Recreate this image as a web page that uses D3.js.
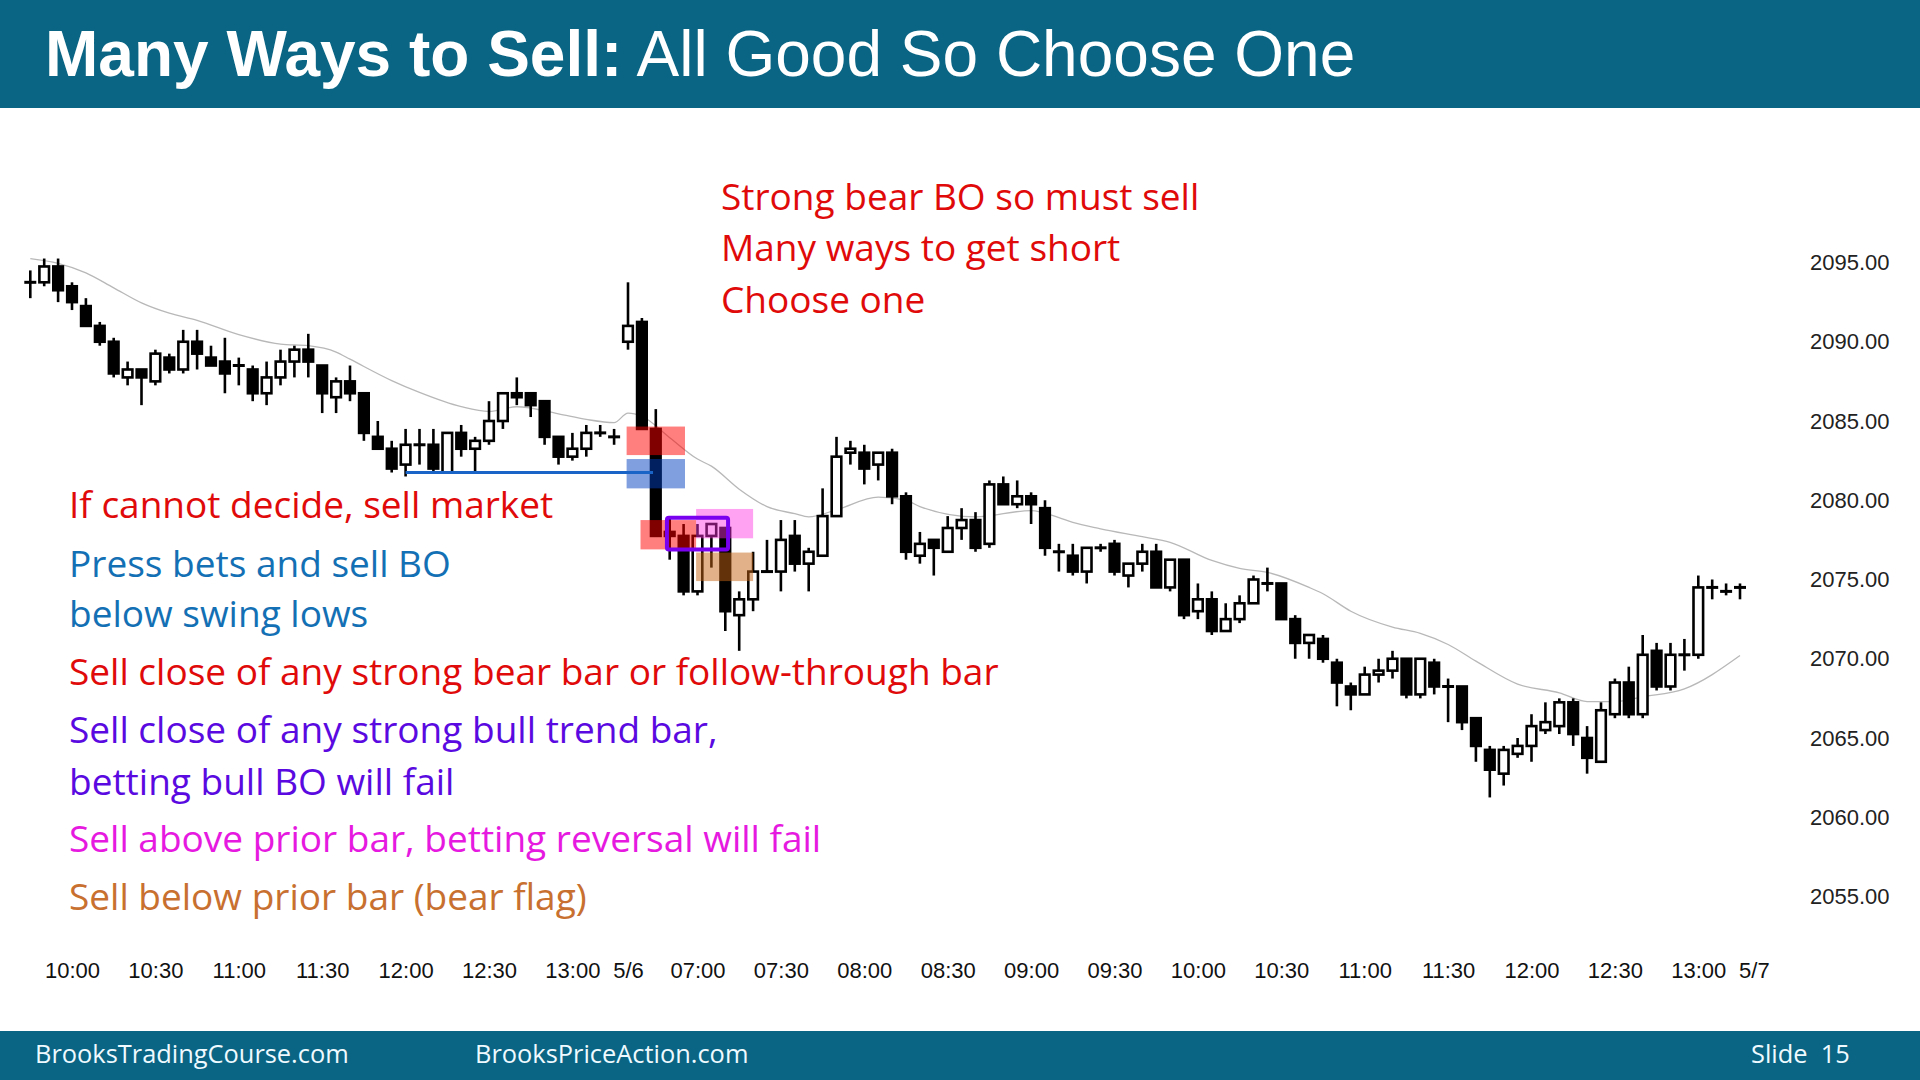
<!DOCTYPE html>
<head>
  <meta charset="utf-8">
  <script src="https://d3js.org/d3.v7.min.js"></script>
  <style>
    body { margin:0; background:#fff; }
  </style>
</head>
<body>
<script>
// ---- data (5 min bars, day 1 = 5/5 09:45-13:15, day 2 = 5/6 06:35-13:15) ----
var openVals = [
  2093.75, 2093.75, 2094.75, 2093.5, 2092.25, 2091, 2090, 2087.75, 2088.25, 2087.5,
  2089, 2088.25, 2090, 2089, 2088.75, 2088.5, 2088.25, 2086.75, 2087.75, 2088.75,
  2089.5, 2088.5, 2086.5, 2087.5, 2086.75, 2084, 2083.25, 2082.25, 2083.5, 2083.5,
  2081.75, 2084.25, 2083.25, 2083.75, 2085, 2086.75, 2086.75, 2086.25, 2084, 2082.75,
  2083.25, 2084.25, 2084,
  2090, 2091.25, 2084.5, 2078, 2077.75, 2074.25, 2077.75, 2078.25, 2072.75, 2073.75,
  2075.5, 2075.5, 2077.75, 2076, 2076.5, 2079, 2083, 2083, 2082.25, 2083,
  2080.25, 2076.5, 2077.5, 2076.75, 2078.25, 2078.75, 2077.25, 2081, 2079.75, 2080.25,
  2079.5, 2076.75, 2076.5, 2075.5, 2077, 2077.25, 2075.25, 2076, 2076.75, 2074.5,
  2076.25, 2073, 2073.75, 2071.75, 2072.5, 2073.5, 2074.75, 2074.75, 2072.5, 2071,
  2071.25, 2069.75, 2068.25, 2067.75, 2069, 2069.25, 2070, 2067.75, 2069.75, 2068.25,
  2068.25, 2066.25, 2064.25, 2062.75, 2064, 2064.5, 2065.5, 2065.75, 2067.25, 2065,
  2063.5, 2066.5, 2068.5, 2066.5, 2070.5, 2068.25, 2070.25, 2070.25, 2074.5, 2074.25,
  2074.5
];
var highVals = [
  2094.5, 2095.25, 2095.25, 2093.75, 2092.75, 2091.25, 2090.25, 2088.75, 2088.25, 2089.5,
  2089.25, 2090.75, 2090.75, 2089.75, 2090.25, 2089, 2088.5, 2088.75, 2089.5, 2089.75,
  2090.5, 2088.5, 2087.75, 2088.5, 2086.75, 2085, 2083.75, 2084.5, 2084.5, 2084.5,
  2084.25, 2084.75, 2084, 2086.25, 2086.75, 2087.75, 2086.75, 2086.25, 2084, 2084.25,
  2084.75, 2084.75, 2084.5,
  2093.75, 2091.5, 2085.75, 2079, 2078.5, 2078.5, 2078.5, 2078.25, 2074.25, 2076.75,
  2077.5, 2078.75, 2078.75, 2077, 2080.75, 2084, 2083.75, 2083.5, 2083, 2083.25,
  2080.5, 2078, 2077.5, 2079, 2079.5, 2079.25, 2081.25, 2081.5, 2081.25, 2080.5,
  2080, 2077.25, 2077.25, 2077, 2077.25, 2077.5, 2076, 2077.25, 2077.25, 2076.25,
  2076.25, 2074.75, 2074.25, 2073.5, 2074, 2075.25, 2075.75, 2074.75, 2072.75, 2071.5,
  2071.5, 2070, 2068.5, 2069.5, 2070, 2070.5, 2070, 2070, 2070, 2068.75,
  2068.25, 2066.25, 2064.5, 2064.5, 2065, 2066.5, 2067.25, 2067.5, 2067.5, 2065.75,
  2067.25, 2068.75, 2069.5, 2071.5, 2071, 2071, 2071.25, 2075.25, 2075, 2074.75,
  2074.75
];
var lowVals = [
  2092.75, 2093.5, 2092.5, 2092, 2091, 2089.75, 2087.75, 2087.25, 2086, 2087.25,
  2088, 2088, 2088.25, 2088.5, 2086.75, 2087.25, 2086.25, 2086, 2087.25, 2087.75,
  2087.75, 2085.5, 2085.5, 2086.25, 2083.75, 2083.25, 2081.75, 2081.5, 2082.25, 2081.75,
  2081.75, 2082.75, 2081.75, 2083.5, 2084.5, 2086, 2085.25, 2083.5, 2082.25, 2082.5,
  2082.75, 2084, 2083.5,
  2089.5, 2084.5, 2077.75, 2076.25, 2074, 2074, 2075.75, 2071.75, 2070.5, 2073,
  2075.5, 2074.25, 2075.5, 2074.25, 2076.5, 2079, 2082.25, 2081, 2081.25, 2079.75,
  2076.25, 2076, 2075.25, 2076.75, 2077.5, 2076.75, 2077, 2079.75, 2079.5, 2078.5,
  2076.5, 2075.5, 2075.25, 2074.75, 2076.75, 2075.25, 2074.5, 2075.5, 2074.5, 2074.25,
  2072.5, 2072.5, 2071.5, 2071.75, 2072.25, 2073.5, 2074.25, 2072.5, 2070, 2070,
  2069.75, 2067, 2066.75, 2067.75, 2068.5, 2068.75, 2067.5, 2067.5, 2067.75, 2066,
  2065.5, 2063.5, 2061.25, 2062, 2063.75, 2063.5, 2065.25, 2065.25, 2064.5, 2062.75,
  2063.5, 2066.25, 2066.25, 2066.25, 2068, 2068, 2069.25, 2070, 2073.75, 2074,
  2073.75
];
var closeVals = [
  2093.75, 2094.75, 2093.25, 2092.5, 2091, 2090, 2088, 2088.25, 2087.75, 2089.25,
  2088.25, 2090, 2089.25, 2088.5, 2088, 2088.5, 2086.75, 2087.75, 2088.75, 2089.5,
  2088.75, 2086.75, 2087.5, 2086.75, 2084.25, 2083.25, 2082, 2083.5, 2083.5, 2082,
  2084.25, 2083.25, 2083.75, 2085, 2086.75, 2086.5, 2086, 2084, 2082.75, 2083.25,
  2084.25, 2084.25, 2084,
  2091, 2084.5, 2077.75, 2077.75, 2074.25, 2077.75, 2078.5, 2073, 2073.75, 2075.5,
  2075.5, 2077.5, 2076, 2076.75, 2079, 2082.75, 2083.25, 2082, 2083, 2080.25,
  2076.75, 2077.25, 2077, 2078.25, 2078.75, 2077, 2081, 2079.75, 2080.25, 2079.75,
  2077, 2076.75, 2075.5, 2077, 2077, 2075.5, 2076, 2076.75, 2074.5, 2076.25,
  2072.75, 2073.75, 2071.75, 2072.5, 2073.5, 2075, 2074.75, 2072.5, 2071, 2071.5,
  2070, 2068.5, 2067.75, 2069, 2069.25, 2070, 2067.75, 2070, 2068.25, 2068.25,
  2066, 2064.5, 2063, 2064.25, 2064.5, 2065.75, 2066, 2067.25, 2065.25, 2063.75,
  2066.75, 2068.5, 2066.5, 2070.25, 2068.25, 2070.25, 2070.25, 2074.5, 2074.5, 2074.25,
  2074.5
];

// moving average: bar index / value
var emaIdx = [0, 2, 4, 6, 8, 10, 12, 15, 18, 20, 22, 23, 26, 28, 31, 33, 35, 38, 40, 42,
  43, 44, 46, 48, 49, 51, 53, 55, 56, 58, 61, 63, 64, 68, 72, 74, 75, 77, 80, 82,
  85, 87, 89, 92, 93, 95, 98, 100, 102, 104, 107, 110, 112, 114, 116, 119, 123];
var emaVal = [2095.25, 2094.95, 2094.35, 2093.4, 2092.45, 2091.8, 2091.35, 2090.45, 2089.85, 2089.75,
  2089.35, 2088.9, 2087.55, 2086.8, 2085.9, 2085.6, 2085.9, 2085.45, 2085.1, 2084.9,
  2085.5, 2085.3, 2083.95, 2082.6, 2082.15, 2080.7, 2079.6, 2079.15, 2078.95, 2079.4,
  2080.2, 2080.0, 2079.6, 2078.95, 2079.35, 2078.9, 2078.6, 2078.2, 2077.7, 2077.35,
  2076.2, 2075.7, 2075.45, 2074.5, 2074.1, 2073.0, 2072.0, 2071.6, 2070.9, 2069.85,
  2068.4, 2067.85, 2067.3, 2067.3, 2067.6, 2068.1, 2070.2];

var yTicks = [2055, 2060, 2065, 2070, 2075, 2080, 2085, 2090, 2095];
var days = [
  {date: "5/5", start: "09:45", end: "13:15"},
  {date: "5/6", start: "06:35", end: "13:15"}
];
var nextDay = "5/7";

var titleBold = "Many Ways to Sell:";
var titleRest = "All Good So Choose One";
var topNotes = ["Strong bear BO so must sell", "Many ways to get short", "Choose one"];
var leftNotes = [
  {text: "If cannot decide, sell market", color: "#e00a0a"},
  {text: "Press bets and sell BO", color: "#1470b4"},
  {text: "below swing lows", color: "#1470b4"},
  {text: "Sell close of any strong bear bar or follow-through bar", color: "#e00a0a"},
  {text: "Sell close of any strong bull trend bar,", color: "#5a0ae0"},
  {text: "betting bull BO will fail", color: "#5a0ae0"},
  {text: "Sell above prior bar, betting reversal will fail", color: "#e619e0"},
  {text: "Sell below prior bar (bear flag)", color: "#c8702f"}
];
var footer = ["BrooksTradingCourse.com", "BrooksPriceAction.com", "Slide  15"];

// ---- bar keys ----
function toMin(s) { var p = s.split(":"); return +p[0] * 60 + +p[1]; }
function fmtMin(m) { return d3.format("02")(Math.floor(m / 60)) + ":" + d3.format("02")(m % 60); }
var barKeys = [];
days.forEach(function(d) {
  for (var m = toMin(d.start); m <= toMin(d.end); m += 5) barKeys.push(d.date + " " + fmtMin(m));
});
var nextKey = nextDay + " " + days[1].start;
var allKeys = barKeys.concat([nextKey]);
var tickKeys = allKeys.filter(function(k, i) {
  var t = k.split(" ")[1];
  if (t === days[1].start) return true;
  return toMin(t) % 30 === 0;
});

var bars = barKeys.map(function(k, i) {
  return {key: k, i: i, o: openVals[i], h: highVals[i], l: lowVals[i], c: closeVals[i]};
});

// ---- svg ----
var W = 1920, H = 1080;
var svg = d3.select("body").append("svg")
  .attr("width", W).attr("height", H).style("display", "block");

var x = d3.scalePoint().domain(allKeys).range([30.3, 1753.9]);
var xi = function(i) { return x.range()[0] + i * x.step(); };
var y = d3.scaleLinear().domain([2055, 2095]).range([896.5, 262.5]);

// header + footer
svg.append("rect").attr("x", 0).attr("y", 0).attr("width", W).attr("height", 108).attr("fill", "#0a6483");
var title = svg.append("text").attr("x", 45).attr("y", 76).attr("fill", "#fff")
  .style("font-family", "'Liberation Sans', Arial, sans-serif").style("font-size", "64px");
title.append("tspan").attr("font-weight", "bold").text(titleBold);
title.append("tspan").text(" " + titleRest);

svg.append("rect").attr("x", 0).attr("y", 1031).attr("width", W).attr("height", 49).attr("fill", "#0a6483");
var footX = [35, 475, 1751];
svg.selectAll("text.foot").data(footer).enter().append("text")
  .attr("class", "foot")
  .attr("x", function(d, i) { return footX[i]; })
  .attr("y", 1063)
  .attr("fill", "#eefaff")
  .style("font-family", "'Open Sans', sans-serif").style("font-size", "25.4px")
  .style("white-space", "pre")
  .text(function(d) { return d; });

// axes
var gy = svg.append("g").attr("transform", "translate(1810,0)")
  .call(d3.axisRight(y).tickValues(yTicks).tickFormat(d3.format(".2f")).tickSize(0).tickPadding(0));
gy.select(".domain").remove();
gy.selectAll("text").attr("fill", "#222").style("font-size", "22px").style("font-family", "'Liberation Sans', Arial");

var gx = svg.append("g").attr("transform", "translate(0,962)")
  .call(d3.axisBottom(x).tickValues(tickKeys).tickSize(0).tickPadding(0)
    .tickFormat(function(k) {
      var p = k.split(" ");
      return p[1] === days[1].start ? p[0] : p[1];
    }));
gx.select(".domain").remove();
gx.selectAll("text").attr("fill", "#111").style("font-size", "22px").style("font-family", "'Liberation Sans', Arial");

// moving average
var ema = emaIdx.map(function(d, i) { return [d, emaVal[i]]; });
svg.append("path").datum(ema)
  .attr("fill", "none").attr("stroke", "#b8b8b8").attr("stroke-width", 1.3)
  .attr("d", d3.line().x(function(d) { return xi(d[0]); }).y(function(d) { return y(d[1]); }).curve(d3.curveMonotoneX));

// candles
var cg = svg.append("g");
cg.selectAll("line.wick").data(bars).enter().append("line")
  .attr("x1", function(d) { return x(d.key); }).attr("x2", function(d) { return x(d.key); })
  .attr("y1", function(d) { return y(d.h); }).attr("y2", function(d) { return y(d.l); })
  .attr("stroke", "#000").attr("stroke-width", 2.6);

cg.selectAll("line.doji").data(bars.filter(function(d) { return d.o === d.c; })).enter().append("line")
  .attr("x1", function(d) { return x(d.key) - 6; }).attr("x2", function(d) { return x(d.key) + 6; })
  .attr("y1", function(d) { return y(d.o); }).attr("y2", function(d) { return y(d.o); })
  .attr("stroke", "#000").attr("stroke-width", 3);

cg.selectAll("rect.body").data(bars.filter(function(d) { return d.o !== d.c; })).enter().append("rect")
  .attr("x", function(d) { return x(d.key) - 4.8; })
  .attr("width", 9.6)
  .attr("y", function(d) { return y(Math.max(d.o, d.c)); })
  .attr("height", function(d) { return Math.abs(y(d.o) - y(d.c)); })
  .attr("fill", function(d) { return d.c > d.o ? "#fff" : "#000"; })
  .attr("stroke", "#000").attr("stroke-width", 2.6);

// trade zones
var zones = [
  {i0: 42.9, i1: 47.1, p0: 2082.85, p1: 2084.65, fill: "#ff0000", op: 0.5},
  {i0: 42.9, i1: 47.1, p0: 2080.75, p1: 2082.6, fill: "#0040c0", op: 0.5},
  {i0: 43.9, i1: 47.9, p0: 2076.9, p1: 2078.75, fill: "#ff0000", op: 0.5},
  {i0: 47.9, i1: 52.0, p0: 2077.6, p1: 2079.45, fill: "#ff30e0", op: 0.45},
  {i0: 47.9, i1: 52.0, p0: 2074.9, p1: 2076.7, fill: "#c86414", op: 0.5}
];
svg.selectAll("rect.zone").data(zones).enter().append("rect")
  .attr("x", function(d) { return xi(d.i0); })
  .attr("width", function(d) { return xi(d.i1) - xi(d.i0); })
  .attr("y", function(d) { return y(d.p1); })
  .attr("height", function(d) { return y(d.p0) - y(d.p1); })
  .attr("fill", function(d) { return d.fill; })
  .attr("fill-opacity", function(d) { return d.op; });

svg.append("rect")
  .attr("x", xi(45.8)).attr("width", xi(50.2) - xi(45.8))
  .attr("y", y(2078.9)).attr("height", y(2076.9) - y(2078.9))
  .attr("fill", "none").attr("stroke", "#7a00f0").attr("stroke-width", 4).attr("rx", 2);

svg.append("line")
  .attr("x1", xi(27)).attr("x2", xi(44.8))
  .attr("y1", y(2081.75)).attr("y2", y(2081.75))
  .attr("stroke", "#1a64c8").attr("stroke-width", 3);

// notes
svg.selectAll("text.top").data(topNotes).enter().append("text")
  .attr("x", 721).attr("y", function(d, i) { return 209.5 + i * 51.5; })
  .attr("fill", "#e00a0a")
  .style("font-family", "'Open Sans', sans-serif").style("font-size", "37px")
  .text(function(d) { return d; });

var leftY = [518, 577, 627, 685, 743, 795, 852, 910];
svg.selectAll("text.left").data(leftNotes).enter().append("text")
  .attr("x", 69).attr("y", function(d, i) { return leftY[i]; })
  .attr("fill", function(d) { return d.color; })
  .style("font-family", "'Open Sans', sans-serif").style("font-size", "37px")
  .text(function(d) { return d.text; });
</script>
</body>
